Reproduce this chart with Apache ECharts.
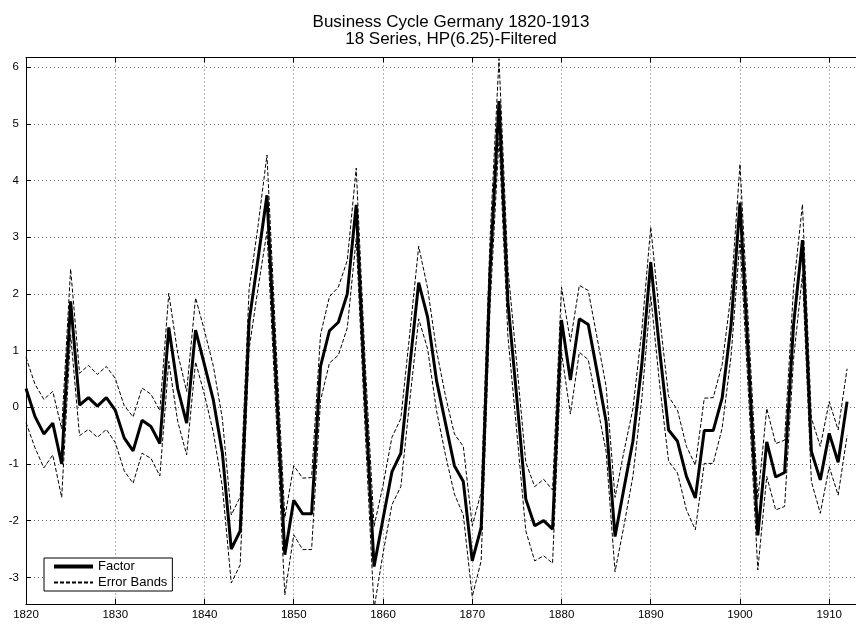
<!DOCTYPE html>
<html>
<head>
<meta charset="utf-8">
<title>Business Cycle Germany 1820-1913</title>
<script src="https://cdn.jsdelivr.net/npm/echarts@6/dist/echarts.min.js"></script>
<style>
    html, body { margin: 0; padding: 0; background: #fff; }
    #chart { width: 856px; height: 624px; }
</style>
</head>
<body>
<div id="chart"></div>
<script>
    const years = [
        1820, 1821, 1822, 1823, 1824, 1825, 1826, 1827, 1828, 1829,
        1830, 1831, 1832, 1833, 1834, 1835, 1836, 1837, 1838, 1839,
        1840, 1841, 1842, 1843, 1844, 1845, 1846, 1847, 1848, 1849,
        1850, 1851, 1852, 1853, 1854, 1855, 1856, 1857, 1858, 1859,
        1860, 1861, 1862, 1863, 1864, 1865, 1866, 1867, 1868, 1869,
        1870, 1871, 1872, 1873, 1874, 1875, 1876, 1877, 1878, 1879,
        1880, 1881, 1882, 1883, 1884, 1885, 1886, 1887, 1888, 1889,
        1890, 1891, 1892, 1893, 1894, 1895, 1896, 1897, 1898, 1899,
        1900, 1901, 1902, 1903, 1904, 1905, 1906, 1907, 1908, 1909,
        1910, 1911, 1912
    ];
    // estimated factor
    const factor = [
        0.33, -0.16, -0.47, -0.28, -1.00, 1.87, 0.04, 0.17, 0.02, 0.17,
        -0.05, -0.54, -0.77, -0.23, -0.34, -0.64, 1.41, 0.33, -0.28, 1.36,
        0.75, 0.12, -0.80, -2.50, -2.18, 1.52, 2.62, 3.74, 0.55, -2.60,
        -1.64, -1.88, -1.88, 0.72, 1.35, 1.50, 2.00, 3.57, 0.20, -2.81,
        -1.97, -1.14, -0.81, 0.72, 2.20, 1.59, 0.47, -0.28, -1.03, -1.31,
        -2.71, -2.12, 2.40, 5.40, 1.85, 0.15, -1.62, -2.09, -2.00, -2.15,
        1.54, 0.48, 1.56, 1.46, 0.62, -0.25, -2.28, -1.43, -0.60, 0.75,
        2.56, 1.00, -0.40, -0.60, -1.22, -1.60, -0.41, -0.41, 0.16, 1.45,
        3.61, 0.70, -2.26, -0.61, -1.23, -1.15, 1.45, 2.95, -0.78, -1.28,
        -0.46, -0.97, 0.10
    ];
    // error bands
    const upper = [
        0.88, 0.41, 0.14, 0.28, -0.38, 2.44, 0.60, 0.74, 0.58, 0.72,
        0.51, 0.03, -0.17, 0.34, 0.23, -0.06, 2.01, 0.95, 0.28, 1.93,
        1.35, 0.72, -0.20, -1.90, -1.58, 2.08, 3.20, 4.45, 1.15, -1.95,
        -1.03, -1.25, -1.24, 1.28, 1.95, 2.12, 2.59, 4.22, 0.80, -2.10,
        -1.38, -0.53, -0.20, 1.30, 2.84, 2.10, 1.00, 0.20, -0.47, -0.69,
        -2.09, -1.50, 3.00, 6.15, 2.45, 0.75, -0.97, -1.40, -1.27, -1.46,
        2.12, 1.16, 2.15, 2.06, 1.22, 0.37, -1.59, -0.78, -0.03, 1.35,
        3.18, 1.60, 0.19, -0.05, -0.69, -1.02, 0.16, 0.17, 0.75, 2.00,
        4.29, 1.30, -1.62, -0.02, -0.64, -0.58, 2.10, 3.58, -0.19, -0.69,
        0.10, -0.40, 0.68
    ];
    const lower = [
        -0.27, -0.71, -1.07, -0.84, -1.59, 1.28, -0.50, -0.39, -0.53, -0.39,
        -0.62, -1.12, -1.34, -0.81, -0.90, -1.21, 0.81, -0.25, -0.84, 0.80,
        0.22, -0.45, -1.40, -3.10, -2.78, 1.03, 2.10, 3.10, -0.05, -3.31,
        -2.25, -2.51, -2.51, 0.12, 0.78, 0.92, 1.40, 2.98, -0.40, -3.55,
        -2.58, -1.72, -1.40, 0.12, 1.56, 1.03, -0.06, -0.84, -1.53, -1.90,
        -3.34, -2.71, 1.80, 4.75, 1.25, -0.45, -2.18, -2.71, -2.62, -2.75,
        0.97, -0.12, 0.97, 0.84, 0.03, -0.78, -2.90, -2.09, -1.22, 0.15,
        1.97, 0.40, -0.95, -1.16, -1.81, -2.16, -0.99, -0.99, -0.37, 0.90,
        2.95, 0.10, -2.87, -1.22, -1.81, -1.75, 0.85, 2.34, -1.31, -1.87,
        -1.05, -1.55, -0.50
    ];

    const font = 'Liberation Sans, Arial, Helvetica, sans-serif';

    function pairs(vals) {
        return years.map(function (y, i) { return [y, vals[i]]; });
    }

    let dotted = {
        show: true,
        lineStyle: { color: '#666', width: 1, type: [1, 3] }
    };

    let option = {
        animation: false,
        backgroundColor: '#fff',
        title: {
            text: 'Business Cycle Germany 1820-1913\n18 Series, HP(6.25)-Filtered',
            left: 446,
            top: 9,
            textAlign: 'center',
            textStyle: {
                fontFamily: font,
                fontSize: 17,
                fontWeight: 'normal',
                color: '#000',
                lineHeight: 17
            }
        },
        legend: {
            orient: 'vertical',
            left: 44,
            top: 558,
            padding: [2, 5, 2, 8],
            itemWidth: 39,
            itemHeight: 14,
            itemGap: 3,
            backgroundColor: '#fff',
            borderColor: '#000',
            borderWidth: 1,
            borderRadius: 0,
            itemStyle: { opacity: 0 },
            textStyle: { fontFamily: font, fontSize: 13, color: '#000' },
            data: [
                { name: 'Factor', lineStyle: { width: 4 } },
                { name: 'Error Bands' }
            ]
        },
        grid: {
            left: 26,
            top: 57.5,
            right: -10,
            bottom: 20,
            containLabel: false
        },
        xAxis: [{
            type: 'value',
            position: 'bottom',
            min: 1820,
            max: 1913,
            interval: 10,
            axisLine: { show: true, onZero: false, lineStyle: { color: '#000', width: 1 } },
            axisTick: { show: true, inside: true, length: 5, lineStyle: { color: '#000' } },
            axisLabel: {
                color: '#000', fontFamily: font, fontSize: 11.5, margin: 5,
                showMaxLabel: false,
                formatter: function (v) { return String(v); }
            },
            splitLine: dotted
        }, {
            type: 'value',
            position: 'top',
            min: 1820,
            max: 1913,
            interval: 10,
            axisLine: { show: true, onZero: false, lineStyle: { color: '#000', width: 1 } },
            axisTick: { show: true, inside: true, length: 5, lineStyle: { color: '#000' } },
            axisLabel: { show: false },
            splitLine: { show: false }
        }],
        yAxis: [{
            type: 'value',
            min: -3.47,
            max: 6.17,
            splitNumber: 10,
            minInterval: 1,
            maxInterval: 1,
            axisLine: { show: true, onZero: false, lineStyle: { color: '#000', width: 1 } },
            axisTick: { show: true, inside: true, length: 5, lineStyle: { color: '#000' } },
            axisLabel: {
                color: '#000', fontFamily: font, fontSize: 11.5, margin: 7,
                showMinLabel: false, showMaxLabel: false
            },
            splitLine: dotted
        }],
        series: [{
            name: 'Error Bands',
            type: 'line',
            data: pairs(upper),
            symbol: 'none',
            lineStyle: { color: '#000', width: 1, type: [4, 2] },
            itemStyle: { color: '#000' },
            z: 2
        }, {
            name: 'Error Bands',
            type: 'line',
            data: pairs(lower),
            symbol: 'none',
            lineStyle: { color: '#000', width: 1, type: [4, 2] },
            itemStyle: { color: '#000' },
            z: 2
        }, {
            name: 'Factor',
            type: 'line',
            data: pairs(factor),
            symbol: 'none',
            lineStyle: { color: '#000', width: 3 },
            itemStyle: { color: '#000' },
            z: 3
        }]
    };

    let chart = echarts.init(document.getElementById('chart'));
    chart.setOption(option);
</script>
</body>
</html>
